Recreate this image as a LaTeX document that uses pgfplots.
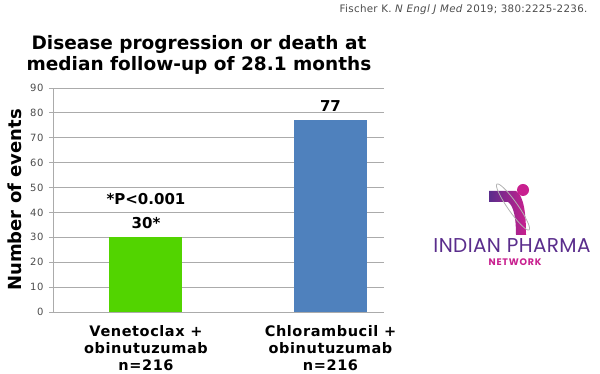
\documentclass[border=0pt]{standalone}
\usepackage{pgfplots}
\pgfplotsset{compat=1.18}
\usepackage{fontspec}
\setmainfont{DejaVu Sans}
\newfontfamily\logofont{Poppins}
\definecolor{vgreen}{HTML}{52D400}
\definecolor{cblue}{HTML}{4F81BD}
\definecolor{gridgray}{HTML}{ABABAB}
\definecolor{lpurple}{HTML}{5A2D8C}
\definecolor{lmag}{HTML}{C8208F}
\begin{document}
\begin{tikzpicture}[x=1pt,y=1pt]
\path[use as bounding box] (0pt,0pt) rectangle (600pt,374pt);
% citation
\node[anchor=east,text=black!70,font=\addfontfeature{LetterSpace=3}\fontsize{10.3}{11}\selectfont] at (591pt,364pt) {Fischer K. \textit{N Engl J Med} 2019; 380:2225-2236.};
% title
\node[align=center,font=\bfseries\fontsize{18.5}{21}\selectfont] at (199pt,319pt) {Disease progression or death at\\median follow-up of 28.1 months};
% y label
\node[rotate=90,font=\bfseries\fontsize{18}{20}\selectfont] at (15pt,174pt) {Number of events};
\begin{axis}[
  at={(53pt,62pt)}, anchor=south west,
  scale only axis, width=331pt, height=224pt,
  ymin=0, ymax=90, ytick={0,10,...,90},
  xmin=-0.504, xmax=1.29,
  xtick={0,1}, xticklabels={{Venetoclax +\\obinutuzumab\\n=216},{Chlorambucil +\\obinutuzumab\\n=216}},
  xticklabel style={align=center,font=\bfseries\addfontfeature{LetterSpace=4}\fontsize{14.5}{17}\selectfont,yshift=-5.5pt},
  major x tick style={draw=none},
  ymajorgrids, grid style={gridgray,line width=0.8pt},
  axis x line*=bottom, axis y line*=left,
  axis line style={gridgray,line width=0.8pt},
  ytick style={gridgray,line width=0.8pt},
  tick align=outside, major tick length=4pt,
  yticklabel style={text=black!70,font=\addfontfeature{LetterSpace=6}\fontsize{10}{11}\selectfont,xshift=-2pt},
  /pgf/number format/assume math mode=true,
  bar width=73pt,
  nodes near coords={\pgfplotspointmeta},
  point meta=explicit symbolic,
  nodes near coords style={font=\bfseries\fontsize{15}{16}\selectfont,yshift=5pt},
]
\addplot[ybar,fill=vgreen,draw=none] coordinates {(0,30) [30*]};
\addplot[ybar,fill=cblue,draw=none] coordinates {(1,77) [77]};
\node[font=\bfseries\fontsize{15}{16}\selectfont] at (axis cs:0,45.4) {*P<0.001};
\end{axis}
% logo
\shade[left color=lpurple,right color=lmag] (489pt,183pt) -- (516pt,183pt) .. controls (524pt,178pt) and (526pt,160pt) .. (526pt,139pt) -- (516pt,139pt) .. controls (516pt,155pt) and (514pt,168pt) .. (508pt,172pt) -- (489pt,172pt) -- cycle;
\fill[lmag] (523pt,184pt) circle (6pt);
\draw[gray!60,line width=0.8pt,rotate around={-55:(513pt,167pt)}] (513pt,167pt) ellipse (28pt and 5pt);
\node[text=lpurple,font=\logofont\addfontfeature{LetterSpace=2}\fontsize{20}{22}\selectfont] at (512pt,128pt) {INDIAN PHARMA};
\node[text=lmag,font=\logofont\bfseries\addfontfeature{LetterSpace=8}\fontsize{9.5}{10}\selectfont] at (515pt,112pt) {NETWORK};
\end{tikzpicture}
\end{document}
